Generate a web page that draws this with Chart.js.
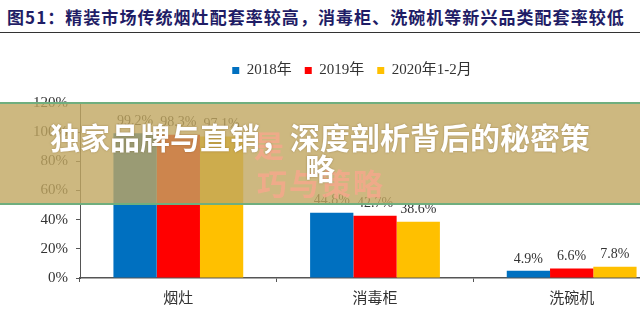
<!DOCTYPE html>
<html>
<head>
<meta charset="utf-8">
<script src="https://cdn.jsdelivr.net/npm/chart.js@4"></script>
<style>
  html, body { margin: 0; padding: 0; background: #fff; }
  body { width: 640px; height: 309px; overflow: hidden; position: relative; }
  #title {
    position: absolute; left: 7px; top: 4px; white-space: nowrap;
    font-family: "Noto Sans CJK SC", sans-serif; font-weight: bold;
    font-size: 17px; letter-spacing: 1.05px; color: #1f1d66;
  }
  #rule { position: absolute; left: 0; top: 32px; width: 640px; height: 0; border-top: 1.5px solid #333; }
  #wrap { position: absolute; left: 0; top: 50px; width: 670px; height: 259px; }
  #banner {
    position: absolute; left: 0; top: 102px; width: 640px; height: 99px;
    background: rgba(192, 166, 96, 0.8);
    border-top: 2px solid #6fae7e; border-bottom: 2px solid #6fae7e;
  }
  #ghost {
    position: absolute; left: 257px; top: 160px; font-family: "Noto Sans CJK SC", sans-serif;
    font-weight: bold; font-size: 30px; letter-spacing: 2px; color: rgba(246, 168, 140, 0.85);
  }
  #ghost2 {
    position: absolute; left: 254px; top: 122px; font-family: "Noto Sans CJK SC", sans-serif;
    font-weight: bold; font-size: 30px; color: rgba(246, 168, 140, 0.85);
  }
  #headline {
    position: absolute; left: 0; top: 121px; width: 640px; text-align: center;
    font-family: "Noto Sans CJK SC", sans-serif; font-weight: bold; font-size: 30px;
    line-height: 31px; color: #fff; text-shadow: 0 0 2px rgba(120, 90, 40, 0.6);
  }
</style>
</head>
<body>
<div id="title">图51：精装市场传统烟灶配套率较高，消毒柜、洗碗机等新兴品类配套率较低</div>
<div id="rule"></div>
<div id="wrap"><canvas id="chart"></canvas></div>
<div id="banner"></div>
<div id="ghost2">是</div>
<div id="ghost">巧与策略</div>
<div id="headline">独家品牌与直销，深度剖析背后的秘密策<br>略</div>
<script>
const categories = ["烟灶", "消毒柜", "洗碗机"];
const seriesNames = ["2018年", "2019年", "2020年1-2月"];
const values2018 = [99.2, 44.8, 4.9];
const values2019 = [98.3, 42.7, 6.6];
const values2020 = [97.1, 38.6, 7.8];
const yTicks = [0, 20, 40, 60, 80, 100, 120];

const colors = ["#0070C0", "#FF0000", "#FFC000"];
const serif = '"Liberation Serif", "Noto Sans CJK SC", serif';

// Value labels above each bar
const barLabels = {
    id: "barLabels",
    afterDatasetsDraw(chart) {
        const ctx = chart.ctx;
        ctx.save();
        ctx.font = "14px " + serif;
        ctx.fillStyle = "#333";
        ctx.textAlign = "center";
        ctx.textBaseline = "bottom";
        chart.data.datasets.forEach((ds, i) => {
            chart.getDatasetMeta(i).data.forEach((bar, j) => {
                ctx.fillText(ds.data[j].toFixed(1) + "%", bar.x, bar.y - 5);
            });
        });
        ctx.restore();
    },
};

// Fix legend block height so the plot starts where it should,
// and nudge it a little right like the original
const legendBox = {
    id: "legendBox",
    beforeInit(chart) {
        const fit = chart.legend.fit;
        chart.legend.fit = function () {
            fit.bind(chart.legend)();
            this.height = 53;
        };
    },
    afterLayout(chart) {
        chart.legend.left += 17;
        chart.legend.right += 17;
    },
};

const ctx = document.getElementById("chart").getContext("2d");
new Chart(ctx, {
    type: "bar",
    data: {
        labels: categories,
        datasets: [
            { label: seriesNames[0], data: values2018, backgroundColor: colors[0] },
            { label: seriesNames[1], data: values2019, backgroundColor: colors[1] },
            { label: seriesNames[2], data: values2020, backgroundColor: colors[2] },
        ],
    },
    options: {
        responsive: true,
        maintainAspectRatio: false,
        animation: false,
        layout: { padding: 0 },
        datasets: { bar: { categoryPercentage: 0.66, barPercentage: 1.0 } },
        plugins: {
            tooltip: { enabled: false },
            legend: {
                position: "top",
                labels: {
                    boxWidth: 7,
                    boxHeight: 7,
                    padding: 13,
                    color: "#333",
                    font: { family: serif, size: 15 },
                },
            },
        },
        scales: {
            x: {
                afterFit: (s) => { s.height = 31; },
                grid: { drawOnChartArea: false, drawTicks: true, tickLength: 4, color: "#555" },
                border: { display: true, color: "#555", width: 1.5 },
                ticks: { color: "#333", padding: 6, font: { family: '"Noto Sans CJK SC", sans-serif', size: 15 } },
            },
            y: {
                min: 0,
                max: 120,
                afterFit: (s) => { s.width = 80; },
                afterBuildTicks: (s) => { s.ticks = yTicks.map((v) => ({ value: v })); },
                grid: { drawOnChartArea: false, drawTicks: true, tickLength: 4, color: "#555" },
                border: { display: true, color: "#555", width: 1 },
                ticks: {
                    color: "#333",
                    padding: 8,
                    font: { family: serif, size: 15 },
                    callback: (v) => v + "%",
                },
            },
        },
    },
    plugins: [barLabels, legendBox],
});
</script>
</body>
</html>
